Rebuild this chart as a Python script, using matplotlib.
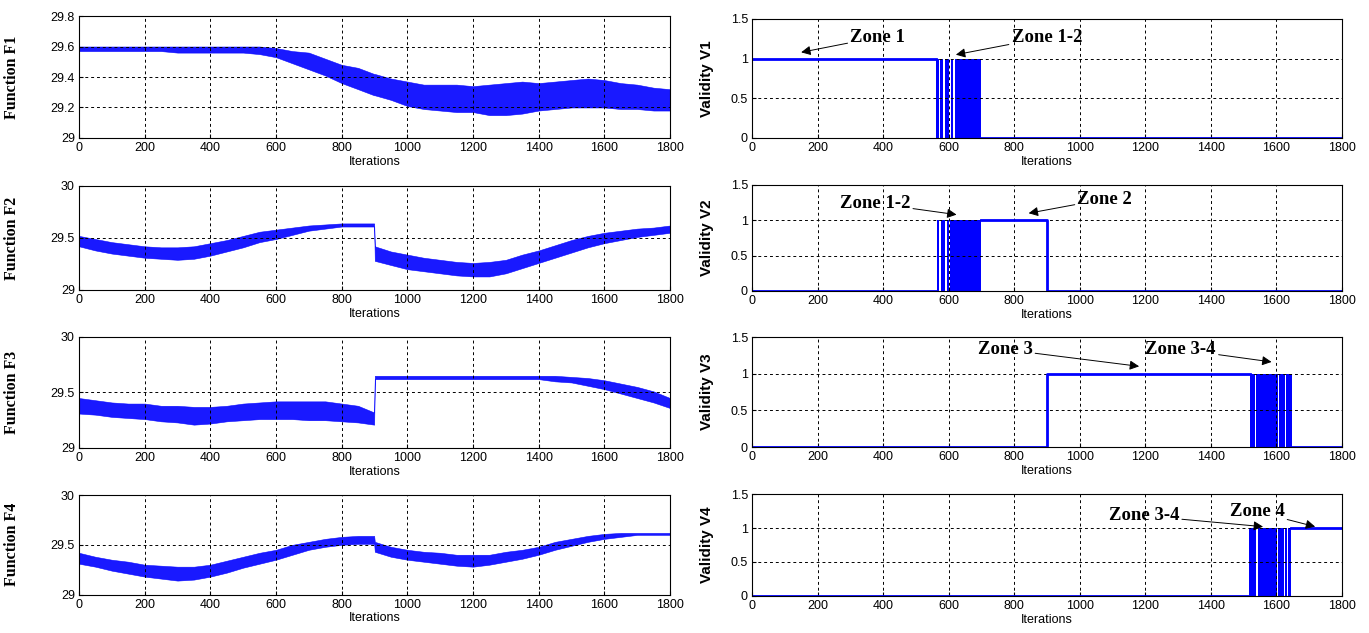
import matplotlib
matplotlib.use("Agg")
import matplotlib.pyplot as plt
import numpy as np

# iteration knots at which the noise envelope of each function was read
iters = [0, 50, 100, 150, 200, 250, 300, 350, 400, 450, 500, 550, 600, 650, 700, 750, 800, 850,
         899, 901, 950, 1000, 1050, 1100, 1150, 1200, 1250, 1300, 1350, 1400, 1450, 1500, 1550,
         1600, 1650, 1700, 1750, 1800]

f1_low = [29.57, 29.57, 29.57, 29.57, 29.57, 29.57, 29.56, 29.56, 29.56, 29.56, 29.56, 29.55, 29.53,
          29.49, 29.45, 29.41, 29.36, 29.32, 29.28, 29.28, 29.25, 29.21, 29.19, 29.18, 29.17, 29.17,
          29.15, 29.15, 29.16, 29.18, 29.19, 29.20, 29.20, 29.20, 29.19, 29.19, 29.18, 29.18]
f1_high = [29.60, 29.60, 29.60, 29.60, 29.60, 29.60, 29.60, 29.60, 29.60, 29.60, 29.60, 29.60, 29.59,
           29.57, 29.56, 29.52, 29.48, 29.46, 29.42, 29.42, 29.39, 29.37, 29.35, 29.35, 29.35, 29.34,
           29.35, 29.36, 29.37, 29.36, 29.37, 29.38, 29.39, 29.38, 29.36, 29.35, 29.33, 29.32]

f2_low = [29.42, 29.38, 29.35, 29.33, 29.31, 29.30, 29.29, 29.30, 29.33, 29.37, 29.41, 29.46, 29.49,
          29.53, 29.57, 29.59, 29.61, 29.61, 29.61, 29.28, 29.24, 29.20, 29.18, 29.16, 29.14, 29.13,
          29.13, 29.16, 29.21, 29.26, 29.31, 29.36, 29.41, 29.45, 29.48, 29.51, 29.53, 29.55]
f2_high = [29.52, 29.49, 29.46, 29.44, 29.42, 29.41, 29.41, 29.42, 29.45, 29.48, 29.52, 29.56, 29.58,
           29.60, 29.62, 29.63, 29.64, 29.64, 29.64, 29.42, 29.37, 29.34, 29.31, 29.29, 29.27, 29.26,
           29.27, 29.29, 29.34, 29.38, 29.43, 29.48, 29.52, 29.55, 29.57, 29.59, 29.60, 29.62]

f3_low = [29.31, 29.30, 29.28, 29.27, 29.26, 29.24, 29.23, 29.21, 29.22, 29.24, 29.25, 29.26, 29.26,
          29.26, 29.25, 29.25, 29.24, 29.23, 29.21, 29.62, 29.62, 29.62, 29.62, 29.62, 29.62, 29.62,
          29.62, 29.62, 29.62, 29.62, 29.60, 29.59, 29.56, 29.53, 29.49, 29.45, 29.41, 29.36]
f3_high = [29.45, 29.43, 29.41, 29.40, 29.40, 29.38, 29.38, 29.37, 29.37, 29.38, 29.40, 29.41, 29.42,
           29.42, 29.42, 29.42, 29.40, 29.38, 29.32, 29.65, 29.65, 29.65, 29.65, 29.65, 29.65, 29.65,
           29.65, 29.65, 29.65, 29.65, 29.65, 29.64, 29.63, 29.61, 29.58, 29.55, 29.51, 29.45]

f4_low = [29.31, 29.28, 29.24, 29.21, 29.18, 29.16, 29.14, 29.15, 29.18, 29.22, 29.27, 29.31, 29.35,
          29.40, 29.45, 29.48, 29.50, 29.51, 29.51, 29.43, 29.38, 29.35, 29.33, 29.31, 29.29, 29.28,
          29.30, 29.33, 29.36, 29.40, 29.45, 29.49, 29.53, 29.56, 29.58, 29.60, 29.60, 29.60]
f4_high = [29.42, 29.38, 29.35, 29.33, 29.30, 29.29, 29.28, 29.28, 29.30, 29.34, 29.38, 29.42, 29.45,
           29.50, 29.53, 29.56, 29.58, 29.59, 29.59, 29.53, 29.48, 29.45, 29.43, 29.42, 29.40, 29.40,
           29.40, 29.43, 29.45, 29.48, 29.53, 29.56, 29.59, 29.61, 29.62, 29.62, 29.62, 29.62]

# validity signals: breakpoints / level after breakpoint (nan = fast switching band)
v1_x = [0, 562, 700, 1800]
v1_y = [1, np.nan, 0, 0]
v1_bands = [(562, 570), (574, 584), (588, 602), (606, 614), (618, 700)]

v2_x = [0, 565, 700, 900, 1800]
v2_y = [0, np.nan, 1, 0, 0]
v2_bands = [(565, 572), (576, 590), (594, 600), (604, 700)]

v3_x = [0, 900, 1520, 1648, 1800]
v3_y = [0, 1, np.nan, 0, 0]
v3_bands = [(1520, 1533), (1537, 1604), (1608, 1626), (1630, 1648)]

v4_x = [0, 1515, 1645, 1800]
v4_y = [0, np.nan, 1, 1]
v4_bands = [(1515, 1539), (1543, 1602), (1606, 1622), (1626, 1632), (1636, 1645)]

func_labels = ["Function F1", "Function F2", "Function F3", "Function F4"]
val_labels = ["Validity V1", "Validity V2", "Validity V3", "Validity V4"]

BLUE = "#0000ff"
tick_font = ["Liberation Sans Narrow", "Liberation Sans", "DejaVu Sans"]
plt.rcParams["font.family"] = tick_font

fig = plt.figure(figsize=(13.69, 6.33), dpi=100)

left_pos = [(0.0577, 0.782, 0.4317, 0.1927), (0.0577, 0.5419, 0.4317, 0.1643),
            (0.0577, 0.2923, 0.4317, 0.1754), (0.0577, 0.0608, 0.4317, 0.1570)]
right_pos = [(0.5493, 0.782, 0.4310, 0.1880), (0.5493, 0.5403, 0.4310, 0.1675),
             (0.5493, 0.2938, 0.4310, 0.1738), (0.5493, 0.0585, 0.4310, 0.1610)]


def style_axes(ax):
    ax.set_xlim(0, 1800)
    ax.set_xticks(np.arange(0, 1801, 200))
    ax.grid(True, color="black", linestyle=(0, (3, 3)), linewidth=0.7)
    ax.tick_params(direction="in", length=3, labelsize=9, pad=3)
    for s in ax.spines.values():
        s.set_linewidth(0.8)
    ax.set_xlabel("Iterations", fontsize=9, labelpad=1)


# left column: noisy function outputs
funcs = [(f1_low, f1_high), (f2_low, f2_high), (f3_low, f3_high), (f4_low, f4_high)]
for i, (lo, hi) in enumerate(funcs):
    ax = fig.add_axes(left_pos[i])
    ax.fill_between(iters, lo, hi, color=BLUE, linewidth=0.4, alpha=0.9)
    style_axes(ax)
    if i == 0:
        ax.set_ylim(29, 29.8)
        ax.set_yticks([29, 29.2, 29.4, 29.6, 29.8])
        ax.set_yticklabels(["29", "29.2", "29.4", "29.6", "29.8"])
    else:
        ax.set_ylim(29, 30)
        ax.set_yticks([29, 29.5, 30])
        ax.set_yticklabels(["29", "29.5", "30"])
    ax.set_ylabel(func_labels[i], family="Liberation Serif", fontweight="bold", fontsize=11.5)
    ax.yaxis.set_label_coords(-0.1, 0.5)

# right column: validity functions
vals = [(v1_x, v1_y, v1_bands), (v2_x, v2_y, v2_bands),
        (v3_x, v3_y, v3_bands), (v4_x, v4_y, v4_bands)]
for i, (vx, vy, bands) in enumerate(vals):
    ax = fig.add_axes(right_pos[i])
    ax.step(vx, vy, where="post", color=BLUE, linewidth=2)
    for a, b in bands:
        ax.fill_between([a, b], 0, 1, color=BLUE, linewidth=0)
    style_axes(ax)
    ax.set_ylim(0, 1.5)
    ax.set_yticks([0, 0.5, 1, 1.5])
    ax.set_yticklabels(["0", "0.5", "1", "1.5"])
    ax.set_ylabel(val_labels[i], family="Liberation Sans", fontweight="bold", fontsize=11)
    ax.yaxis.set_label_coords(-0.065, 0.5)

    zone = dict(family="Liberation Serif", fontweight="bold", fontsize=13.5, va="center")
    arrow = dict(arrowstyle="-|>", color="black", lw=0.7, mutation_scale=14, shrinkA=0, shrinkB=0)
    if i == 0:
        ax.annotate("Zone 1", xy=(150, 1.08), xytext=(300, 1.27), arrowprops=arrow, **zone)
        ax.annotate("Zone 1-2", xy=(622, 1.05), xytext=(792, 1.27), arrowprops=arrow, **zone)
    elif i == 1:
        ax.annotate("Zone 1-2", xy=(624, 1.08), xytext=(268, 1.24), arrowprops=arrow, **zone)
        ax.annotate("Zone 2", xy=(844, 1.1), xytext=(993, 1.3), arrowprops=arrow, **zone)
    elif i == 2:
        ax.annotate("Zone 3", xy=(1181, 1.1), xytext=(688, 1.33), arrowprops=arrow, **zone)
        ax.annotate("Zone 3-4", xy=(1585, 1.16), xytext=(1200, 1.33), arrowprops=arrow, **zone)
    else:
        ax.annotate("Zone 3-4", xy=(1559, 1.02), xytext=(1088, 1.18), arrowprops=arrow, **zone)
        ax.annotate("Zone 4", xy=(1718, 1.02), xytext=(1457, 1.24), arrowprops=arrow, **zone)

fig.savefig("out.png", dpi=100)
